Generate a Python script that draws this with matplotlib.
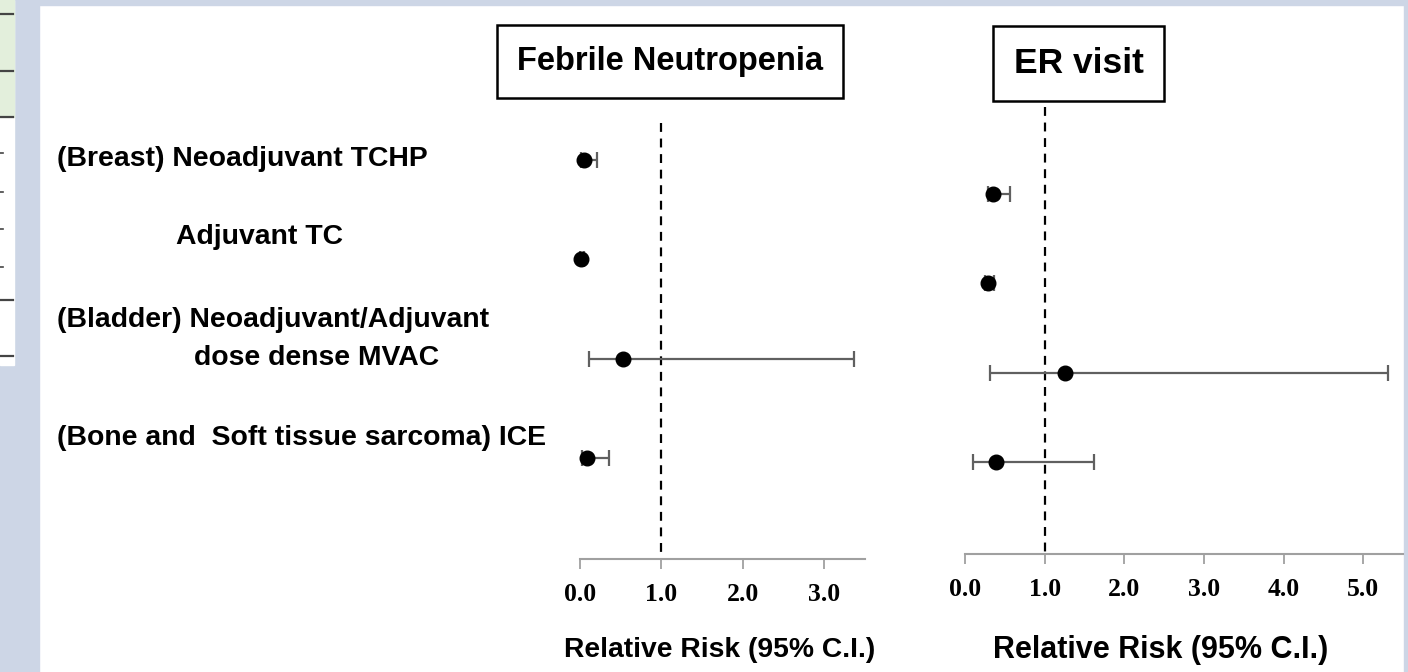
import numpy as np
import matplotlib
matplotlib.use("Agg")
from matplotlib import pyplot as plt
from matplotlib.patches import Rectangle
from matplotlib.lines import Line2D

# Data
fn_rr = [0.05, 0.01, 0.53, 0.09]
fn_lo = [0.01, 0.00, 0.11, 0.02]
fn_hi = [0.21, 0.05, 3.37, 0.36]

er_rr = [0.35, 0.29, 1.25, 0.39]
er_lo = [0.29, 0.25, 0.31, 0.10]
er_hi = [0.57, 0.36, 5.31, 1.62]

row_labels = ["(Breast) Neoadjuvant TCHP", "Adjuvant TC",
              "(Bladder) Neoadjuvant/Adjuvant", "dose dense MVAC",
              "(Bone and  Soft tissue sarcoma) ICE"]
fn_ticks = [0, 1, 2, 3]
er_ticks = [0, 1, 2, 3, 4, 5]

W, H = 1408, 672
ROW = 99.3  # px per row step (left panel)


def fx(px):
    return px / W


def fy(py):
    return 1 - py / H


fig = plt.figure(figsize=(14.08, 6.72), dpi=100, facecolor="white")

# slide background pieces
blue = "#cdd6e6"
fig.add_artist(Rectangle((0, 0), fx(39), 1, transform=fig.transFigure, color=blue, zorder=0))
fig.add_artist(Rectangle((0, fy(5)), 1, 5 / H, transform=fig.transFigure, color=blue, zorder=0))
fig.add_artist(Rectangle((fx(1404), 0), 4 / W, 1, transform=fig.transFigure, color=blue, zorder=0))
fig.add_artist(Rectangle((0, fy(365)), fx(14), 365 / H, transform=fig.transFigure, color="white", zorder=1))
fig.add_artist(Rectangle((0, fy(117)), fx(14), 117 / H, transform=fig.transFigure, color="#e3efdc", zorder=1))
for y in [14, 71, 117, 300, 356]:
    fig.add_artist(Line2D([0, fx(13)], [fy(y), fy(y)], transform=fig.transFigure, color="#444444", lw=1.6, zorder=2))
for y in [153, 192, 229, 267]:
    fig.add_artist(Line2D([0, fx(3)], [fy(y), fy(y)], transform=fig.transFigure, color="#444444", lw=1.2, zorder=2))


def panel(left, right, bottom, xmax, rows, rr, lo, hi, ticks, dash_top):
    ax = fig.add_axes([fx(left), fy(bottom), (right - left) / W, (bottom - 100) / H])
    ax.set_xlim(0, xmax)
    ax.set_ylim((bottom - 160) / ROW, (100 - 160) / ROW)
    for s in ["top", "left", "right"]:
        ax.spines[s].set_visible(False)
    ax.spines["bottom"].set_color("#a0a0a0")
    ax.spines["bottom"].set_linewidth(1.5)
    ax.set_yticks([])
    ax.set_xticks(ticks)
    ax.set_xticklabels([f"{t:.1f}" for t in ticks], family="Liberation Serif",
                       fontweight="bold", fontsize=18.5)
    ax.tick_params(axis="x", colors="#a0a0a0", length=7, width=1.3, pad=10.5, labelcolor="black")
    ax.vlines(1.0, (dash_top - 160) / ROW, (bottom - 160) / ROW, colors="black",
              linestyles=(0, (4, 3)), lw=1.6, zorder=1)
    rr = np.array(rr)
    ax.errorbar(rr, rows, xerr=[rr - np.array(lo), np.array(hi) - rr], fmt="o",
                color="black", ms=10.5, ecolor="#606060", elinewidth=1.6,
                capsize=5.5, capthick=1.6, zorder=3, clip_on=False)
    return ax


fn_rows = np.arange(4)
er_rows = 0.34 + 0.9 * np.arange(4)

axL = panel(580, 865, 559, 3.5, fn_rows, fn_rr, fn_lo, fn_hi, fn_ticks, 123)
axR = panel(965, 1403, 554, 5.5, er_rows, er_rr, er_lo, er_hi, er_ticks, 107)

axL.set_xlabel("Relative Risk (95% C.I.)", family="Liberation Sans", fontweight="bold", fontsize=20.3)
axL.xaxis.set_label_coords(0.49, -0.17)
axR.set_xlabel("Relative Risk (95% C.I.)", family="Liberation Sans", fontweight="bold", fontsize=22)
axR.xaxis.set_label_coords(0.447, -0.178)

# title boxes
for (x0, x1, y0, y1, txt, fs) in [(497, 843, 25, 98, "Febrile Neutropenia", 23.5),
                                  (993, 1164, 26, 101, "ER visit", 25.5)]:
    fig.add_artist(Rectangle((fx(x0), fy(y1)), (x1 - x0) / W, (y1 - y0) / H,
                             transform=fig.transFigure, fill=False, ec="black", lw=1.8))
    fig.text(fx((x0 + x1) / 2), fy((y0 + y1) / 2), txt, ha="center", va="center",
             family="Liberation Sans", fontweight="bold", fontsize=fs)

# row labels
label_pos = [(57, 159, "left"), (260, 237, "center"), (57, 320, "left"),
             (317, 358, "center"), (57, 438, "left")]
for (x, y, ha), txt in zip(label_pos, row_labels):
    fig.text(fx(x), fy(y), txt, ha=ha, va="center", family="Liberation Sans",
             fontweight="bold", fontsize=20.4)

fig.savefig("out.png", dpi=100, facecolor="white")
